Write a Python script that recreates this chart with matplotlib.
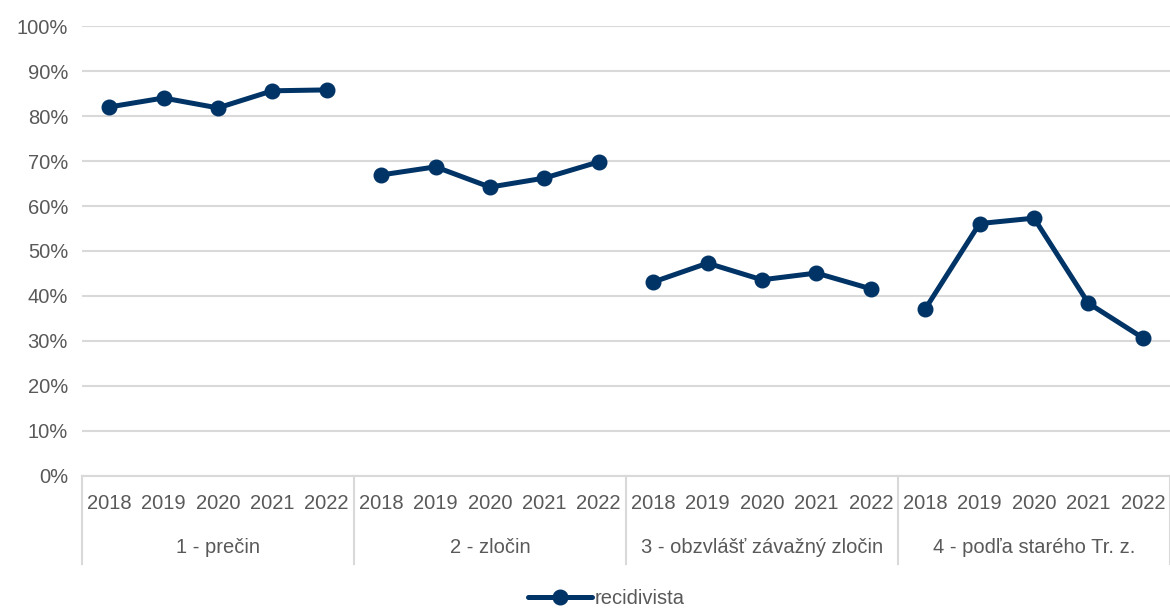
import matplotlib.pyplot as plt
from matplotlib import font_manager
import matplotlib.transforms as mtransforms

# údaje
groups = ['1 - prečin', '2 - zločin', '3 - obzvlášť závažný zločin', '4 - podľa starého Tr. z.']
years = ['2018', '2019', '2020', '2021', '2022']
precin = [82.0, 84.0, 81.8, 85.6, 85.8]
zlocin = [66.9, 68.7, 64.2, 66.2, 69.8]
zavazny = [43.1, 47.3, 43.6, 45.1, 41.6]
stary = [37.1, 56.1, 57.3, 38.4, 30.7]
series = [precin, zlocin, zavazny, stary]

names = {f.name for f in font_manager.fontManager.ttflist}
fam = 'Liberation Sans Narrow' if 'Liberation Sans Narrow' in names else 'Liberation Sans'
plt.rcParams['font.family'] = [fam, 'DejaVu Sans']

navy = '#003366'
grey = '#595959'
grid = '#d9d9d9'
fs = 14.5

fig = plt.figure(figsize=(11.7, 6.09), dpi=100)
ax = fig.add_axes([0.070, 0.2184, 0.930, 0.7389])

n = len(years)
for i, vals in enumerate(series):
    xs = list(range(i * n, i * n + n))
    ln, = ax.plot(xs, vals, color=navy, lw=3.6, marker='o', ms=10.5, zorder=3,
                  solid_capstyle='round', solid_joinstyle='round')
    if i == 0:
        ln.set_label('recidivista')

ax.set_xlim(-0.5, len(groups) * n - 0.5)
ax.set_ylim(0, 100)
ax.set_yticks(range(0, 101, 10))
ax.set_yticklabels([f'{v}%' for v in range(0, 101, 10)])
ax.yaxis.grid(True, color=grid, lw=1.5)
ax.set_axisbelow(True)
for s in ['top', 'right', 'left']:
    ax.spines[s].set_visible(False)
ax.spines['bottom'].set_color(grid)
ax.spines['bottom'].set_linewidth(1.5)
ax.tick_params(axis='y', length=0, pad=10, labelsize=fs, labelcolor=grey)

ax.set_xticks(range(len(groups) * n))
ax.set_xticklabels(years * len(groups))
ax.tick_params(axis='x', length=0, pad=13, labelsize=fs, labelcolor=grey)

trans = mtransforms.blended_transform_factory(ax.transData, ax.transAxes)
for i, g in enumerate(groups):
    ax.text(i * n + (n - 1) / 2, -0.158, g, transform=trans, ha='center', va='center',
            fontsize=fs, color=grey)
for k in range(len(groups) + 1):
    ax.plot([k * n - 0.5] * 2, [0, -0.195], transform=trans, color=grid, lw=1.5,
            clip_on=False)

fig.legend(loc='lower center', bbox_to_anchor=(0.518, -0.028), frameon=False,
           fontsize=fs, labelcolor=grey, handlelength=3.2, handletextpad=0.1)

fig.savefig('out.png', dpi=100)
